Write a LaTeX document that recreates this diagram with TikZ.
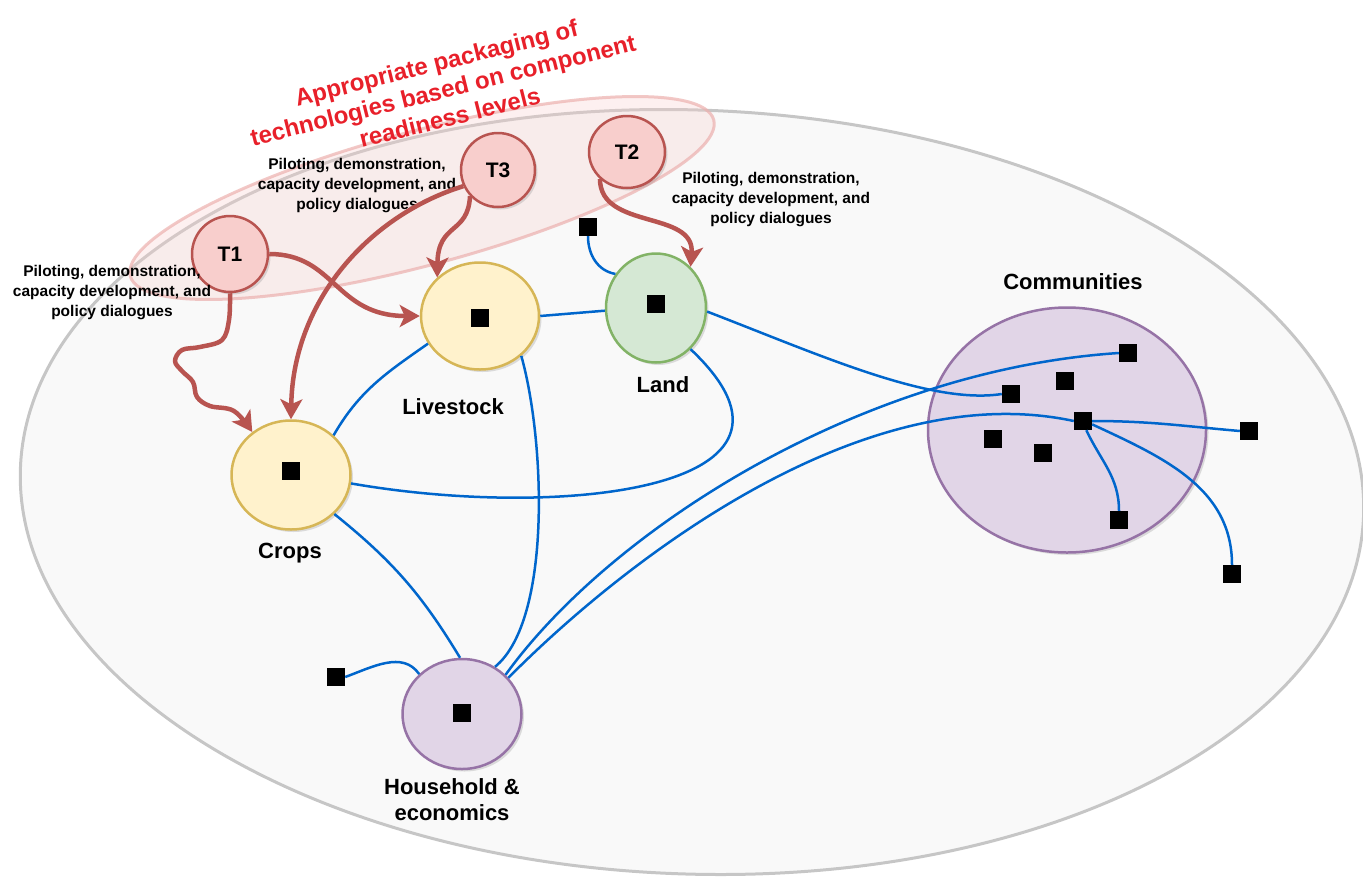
\documentclass[tikz,border=0pt]{standalone}
\usepackage{fontspec}
\setmainfont{Liberation Sans}
\usetikzlibrary{arrows.meta}
\usetikzlibrary{shapes.geometric}
\usetikzlibrary{shadows}

\definecolor{tfill}{HTML}{F8CECC}
\definecolor{tline}{HTML}{B85450}
\definecolor{yfill}{HTML}{FFF2CC}
\definecolor{yline}{HTML}{D6B656}
\definecolor{gfill}{HTML}{D5E8D4}
\definecolor{gline}{HTML}{82B366}
\definecolor{pfill}{HTML}{E1D5E7}
\definecolor{pline}{HTML}{9673A6}
\definecolor{linkblue}{HTML}{0066CC}
\definecolor{ringfill}{HTML}{F9F9F9}
\definecolor{ringline}{HTML}{C6C6C6}
\definecolor{pinkedge}{RGB}{236,176,174}
\definecolor{titlered}{RGB}{232,32,42}

\begin{document}
\begin{tikzpicture}[x=1pt,y=1pt,
    tech/.style={ellipse, draw=tline, fill=tfill, line width=2.5pt, inner sep=0pt,
        minimum width=76pt, minimum height=76pt, font=\fontsize{21}{21}\selectfont\bfseries,
        drop shadow={shadow xshift=2.5pt, shadow yshift=-2.5pt, opacity=0.25}},
    comp/.style={ellipse, line width=2.5pt, inner sep=0pt,
        drop shadow={shadow xshift=2.5pt, shadow yshift=-2.5pt, opacity=0.25}},
    blk/.style={fill=black, minimum size=18pt, inner sep=0pt},
    comptxt/.style={font=\fontsize{22}{26}\selectfont\bfseries, align=center},
    notetxt/.style={font=\fontsize{15.5}{20}\selectfont\bfseries, align=center},
    link/.style={draw=linkblue, line width=2.5pt},
    push/.style={draw=tline, line width=4.5pt, line join=round,
        -{Stealth[length=20pt,width=22pt,inset=5pt]}}]
    \useasboundingbox (0,0) rectangle (1363,-879);

    \draw[draw=ringline, fill=ringfill, line width=3pt, rotate around={-2:(692,-492)}]
        (692,-492) ellipse (672 and 382);
    \draw[draw=pinkedge, draw opacity=0.7, fill=tfill, fill opacity=0.3, line width=3pt,
        rotate around={15:(422,-198)}] (422,-198) ellipse (302 and 67);

    \node[text=titlered, font=\fontsize{24}{28}\selectfont\bfseries, align=center, rotate=14]
        (pitch) at (443,-90) {Appropriate packaging of\\technologies based on component\\readiness levels};

    \node[tech] (t_1) at (230,-254) {T1};
    \node[tech, minimum width=74pt, minimum height=74pt] (t_3) at (498,-170) {T3};
    \node[tech, minimum height=72pt] (t_2) at (627,-152) {T2};

    \node[comp, draw=yline, fill=yfill, minimum width=118pt, minimum height=107pt] (live) at (480,-316) {};
    \node[comp, draw=gline, fill=gfill, minimum width=100pt, minimum height=109pt] (land) at (656,-308) {};
    \node[comp, draw=yline, fill=yfill, minimum width=119pt, minimum height=109pt] (crops) at (291,-475) {};
    \node[comp, draw=pline, fill=pfill, minimum width=119pt, minimum height=110pt] (hh) at (462,-714) {};
    \node[comp, draw=pline, fill=pfill, minimum width=278pt, minimum height=245pt] (comm) at (1067,-430) {};

    \node[comptxt] (livelbl) at (453,-407) {Livestock};
    \node[comptxt] (landlbl) at (663,-385) {Land};
    \node[comptxt] (cropslbl) at (290,-553) {Crops};
    \node[comptxt] (hhlbl) at (452,-800) {Household \&\\economics};
    \node[comptxt] (commlbl) at (1073,-282) {Communities};

    \node[notetxt] (note_1) at (112,-293) {Piloting, demonstration,\\capacity development, and\\policy dialogues};
    \node[notetxt] (note_3) at (357,-186) {Piloting, demonstration,\\capacity development, and\\policy dialogues};
    \node[notetxt] (note_2) at (771,-200) {Piloting, demonstration,\\capacity development, and\\policy dialogues};

    \node[blk] (s_crops) at (291,-471) {};
    \node[blk] (s_live) at (480,-318) {};
    \node[blk] (s_land) at (656,-304) {};
    \node[blk] (s_hh) at (462,-713) {};
    \node[blk] (s_a) at (588,-227) {};
    \node[blk] (s_b) at (336,-677) {};
    \node[blk] (s_1) at (1128,-353) {};
    \node[blk] (s_2) at (1065,-381) {};
    \node[blk] (s_3) at (1011,-394) {};
    \node[blk] (s_c) at (1083,-421) {};
    \node[blk] (s_4) at (993,-439) {};
    \node[blk] (s_5) at (1043,-453) {};
    \node[blk] (s_6) at (1119,-520) {};
    \node[blk] (s_7) at (1249,-431) {};
    \node[blk] (s_8) at (1232,-574) {};

    \path[link]
        (live.0) edge (land.183)
        (live.208) edge[out=215, in=60] (crops.43)
        (crops.-42) edge[bend left=10] (hh.92)
        (s_a.south) edge[out=-90, in=170] (land.140)
        (s_b.east) edge[out=20, in=125] (hh.137)
        (s_c.east) edge[out=0, in=175] (s_7.west)
        (s_c.-70) edge[out=-65, in=90] (s_6.north)
        (s_c.-20) edge[out=-25, in=90] (s_8.north);
    \draw[link] (crops.-8) .. controls (560,-520) and (840,-490) .. (land.-50);
    \draw[link] (live.-44) .. controls (545,-440) and (552,-620) .. (hh.55);
    \draw[link] (hh.42) .. controls (610,-530) and (860,-370) .. (s_1.west);
    \draw[link] (hh.38) .. controls (620,-565) and (860,-375) .. (s_c.west);
    \draw[link] (land.-4) .. controls (820,-355) and (930,-405) .. (s_3.west);

    \draw[push] (t_1.0) .. controls (335,-254) and (335,-316) .. (live.180);
    \draw[push] plot[smooth, tension=0.6] coordinates {(t_1.-90) (229,-320) (222,-340) (200,-347)
        (182,-350) (175,-361) (182,-371) (193,-382) (197,-397) (210,-406) (234,-411) (crops.132)};
    \draw[push] (t_3.205) .. controls (370,-215) and (293,-300) .. (crops.90);
    \draw[push] (t_3.223) .. controls (468,-235) and (438,-222) .. (live.138);
    \draw[push] (t_2.-135) .. controls (600,-230) and (695,-210) .. (land.50);
\end{tikzpicture}
\end{document}
